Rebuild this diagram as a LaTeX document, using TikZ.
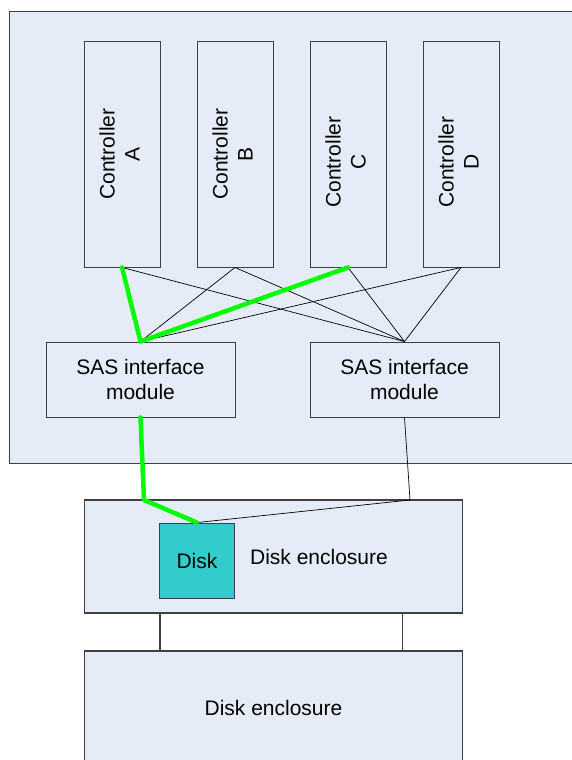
\documentclass[tikz,border=0pt]{standalone}
\usepackage{fontspec}
\setmainfont{Liberation Sans}
\usetikzlibrary{calc}
\usetikzlibrary{positioning}
\definecolor{panel}{RGB}{230,236,247}
\definecolor{diskfill}{RGB}{51,204,204}
\definecolor{edge}{RGB}{64,64,64}
\definecolor{path}{RGB}{0,255,0}
\tikzset{box/.style={draw=edge, line width=0.9pt, fill=panel, inner sep=0pt, align=center},
ctrl/.style={box, minimum width=76pt, minimum height=226pt},
sas/.style={box, minimum width=189pt, minimum height=75pt},
encl/.style={box, line width=1.3pt, minimum width=378pt, minimum height=113pt},
wire/.style={line width=0.7pt},
active/.style={draw=path, line width=4.5pt, line join=round, line cap=round}}

\begin{document}
\begin{tikzpicture}[x=1pt,y=-1pt,font=\fontsize{21}{25}\selectfont]
\useasboundingbox (0,0) rectangle (571,760);
\fill[white] (0,0) rectangle (571,760);
\draw[draw=edge, line width=0.9pt, fill=panel] (9,11) rectangle (600,463);
\foreach \n/\x/\s in {A/122/0,B/235/0,C/348/8,D/461/8}
  \node[ctrl] (\n) at (\x,154) {\rotatebox{90}{\kern-\s pt\begin{tabular}{@{}c@{}}Controller\\\n\end{tabular}\kern\s pt}};
\node[sas] (sasL) at (140.5,379.5) {SAS interface\\module};
\node[sas] (sasR) at (404.5,379.5) {SAS interface\\module};
\node[encl] (encA) at (273.5,556.5) {};
\node[encl] (encB) at (273.5,707.5) {Disk enclosure};
\node[box, fill=diskfill, minimum width=75pt, minimum height=75pt] (disk) at (197,560.5) {Disk};
\node[right=15pt of disk, inner sep=0pt, yshift=3.5pt] (enclText) {Disk enclosure};
\coordinate (inL) at (144,500);
\coordinate (inR) at (410,500);
% controller to module links
\foreach \n in {A,B,C,D}
  \draw[wire] (\n.south) -- (sasR.north);
\foreach \n in {B,D}
  \draw[wire] (\n.south) -- (sasL.north);
\draw[active] (A.south) -- (sasL.north) -- (C.south);
% module to enclosure links
\draw[wire] (sasR.south) -- (inR) -- (disk.north);
\draw[active] (sasL.south) -- (inL) -- (disk.north);
\draw[draw=edge, line width=1.3pt] ($(encA.south west)+(76,0)$) -- ($(encB.north west)+(76,0)$);
\draw[draw=edge, line width=1.3pt] ($(encA.south east)+(-61,0)$) -- ($(encB.north east)+(-61,0)$);
\end{tikzpicture}
\end{document}
